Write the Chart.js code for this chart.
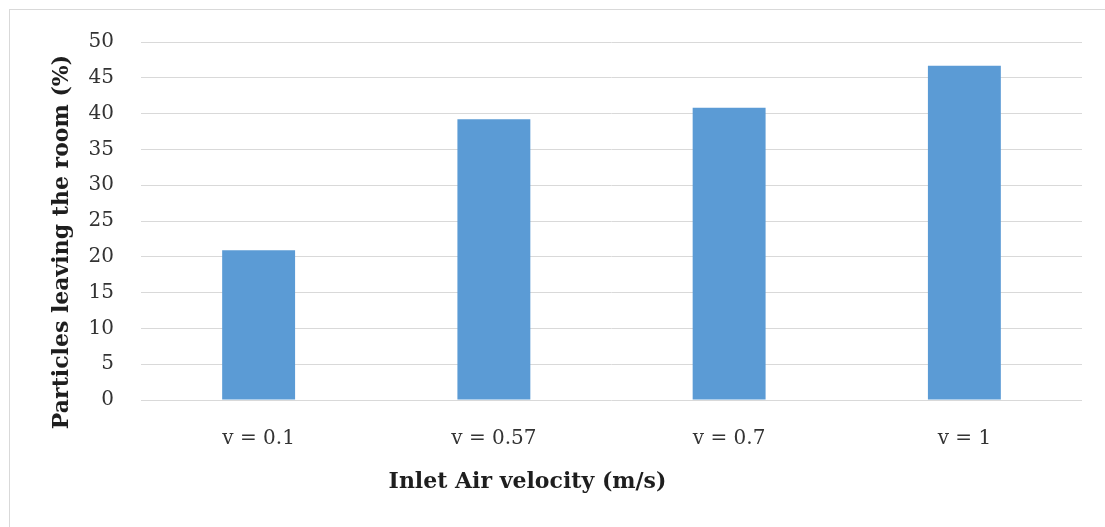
<!DOCTYPE html>
<html>
<head>
<meta charset="utf-8">
<script src="https://cdn.jsdelivr.net/npm/chart.js@4"></script>
<style>
  html, body { margin: 0; padding: 0; background: #fff; overflow: hidden; }
  #wrap { position: relative; width: 1105px; height: 527px; }
  #frame { position: absolute; left: 9px; top: 9px; width: 1200px; height: 600px; border: 1px solid #d9d9d9; }
  #myChart { position: absolute; left: 0; top: 0; }
</style>
</head>
<body>
<div id="wrap">
  <div id="frame"></div>
  <canvas id="myChart" width="1105" height="527"></canvas>
</div>
<script>
const labels = ["v = 0.1", "v = 0.57", "v = 0.7", "v = 1"];
const particlesOut = [20.9, 39.2, 40.8, 46.7];

const xTitle = "Inlet Air velocity (m/s)";
const yTitle = "Particles leaving the room (%)";

const serif = "'DejaVu Serif', 'Liberation Serif', serif";

// axis titles drawn by hand: they sit off the plot-area centre
const axisTitles = {
  id: "axisTitles",
  afterDraw(chart, args, opts) {
    const { ctx, chartArea } = chart;
    const midX = (chartArea.left + chartArea.right) / 2;
    const midY = (chartArea.top + chartArea.bottom) / 2;
    ctx.save();
    ctx.font = "bold 22px " + serif;
    ctx.fillStyle = opts.color;
    ctx.textAlign = "center";
    ctx.textBaseline = "middle";
    ctx.fillText(xTitle, midX + opts.xShift, chartArea.bottom + opts.xGap);
    ctx.translate(opts.yX, midY + opts.yShift);
    ctx.rotate(-Math.PI / 2);
    ctx.fillText(yTitle, 0, 0);
    ctx.restore();
  },
};

const data = {
  labels: labels,
  datasets: [
    {
      label: "Particles leaving the room",
      backgroundColor: "#5b9bd5",
      borderWidth: 0,
      data: particlesOut,
      categoryPercentage: 1,
      barPercentage: 0.31,
    },
  ],
};

const config = {
  type: "bar",
  data: data,
  plugins: [axisTitles],
  options: {
    responsive: false,
    animation: false,
    layout: {
      padding: { left: 49, right: 23, top: 42, bottom: 32 },
    },
    plugins: {
      legend: { display: false },
      tooltip: { enabled: false },
      axisTitles: { color: "#1e1e1e", xShift: -84, xGap: 82, yX: 62, yShift: 21 },
    },
    scales: {
      x: {
        grid: { display: false },
        border: { display: false },
        ticks: {
          color: "#333",
          padding: 19,
          font: { family: serif, size: 20 },
        },
        afterFit: (scale) => {
          scale.height = 95;
        },
      },
      y: {
        min: 0,
        max: 50,
        grid: { color: "#d9d9d9", lineWidth: 1, drawTicks: false },
        border: { display: false },
        ticks: {
          stepSize: 5,
          color: "#333",
          padding: 27,
          font: { family: serif, size: 20 },
        },
        afterFit: (scale) => {
          scale.width = 92;
        },
      },
    },
  },
};

const myChart = new Chart(document.getElementById("myChart"), config);
</script>
</body>
</html>
